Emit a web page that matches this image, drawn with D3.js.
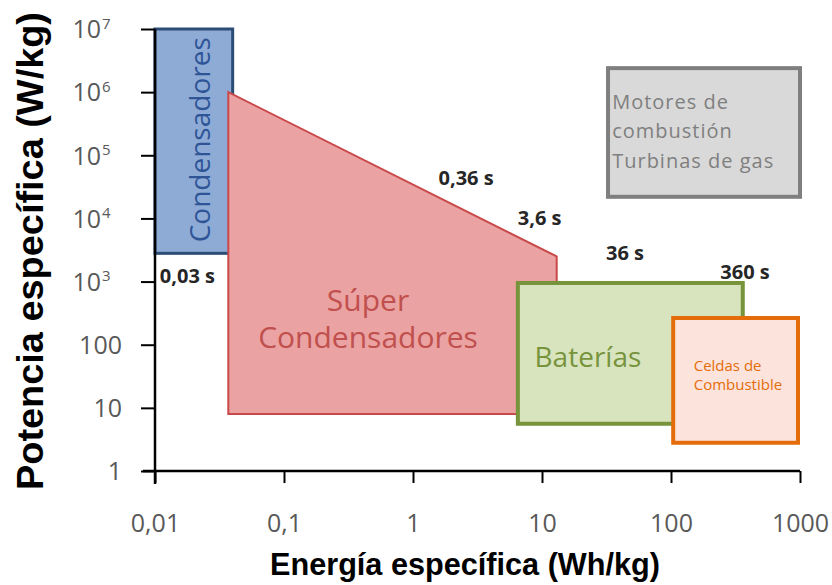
<!DOCTYPE html>
<html>
<head>
<meta charset="utf-8">
<script src="https://cdn.jsdelivr.net/npm/d3@7"></script>
<style>
	body { margin: 0; background: #fff; }
	svg { display: block; }
	.tick-label { font-family: 'Open Sans', sans-serif; fill: #595959; }
	.axis-title { font-family: 'Liberation Sans', Arial, sans-serif; font-weight: bold; fill: #000; }
	.time-label { font-family: 'Open Sans', sans-serif; font-weight: bold; fill: #262626; }
	.region-label { font-family: 'Open Sans', sans-serif; }
</style>
</head>
<body>
<svg id="chart-svg" width="832" height="585"></svg>
<script>
// Ragone chart: energia especifica vs potencia especifica

const X_TICKS = [0.01, 0.1, 1, 10, 100, 1000];
const X_TICK_LABELS = ['0,01', '0,1', '1', '10', '100', '1000'];
const Y_TICKS = [1, 10, 100, 1e3, 1e4, 1e5, 1e6, 1e7];
const Y_TICK_LABELS = ['1', '10', '100', '10|3', '10|4', '10|5', '10|6', '10|7'];

// rectangles: [energia min, energia max], [potencia min, potencia max]
const condensadoresEnergy = [0.01, 0.04];
const condensadoresPower = [2800, 1e7];
const bateriasEnergy = [6.5, 360];
const bateriasPower = [5.6, 950];
const celdasEnergy = [104, 965];
const celdasPower = [2.8, 265];
const motoresEnergy = [32.5, 1000];
const motoresPower = [2.2e4, 2.4e6];

// super condensadores polygon (energia, potencia)
const superPoints = [[0.037, 1e6], [13, 2500], [13, 8], [0.037, 8]];

// tiempos de descarga
const timeLabels = ['0,03 s', '0,36 s', '3,6 s', '36 s', '360 s'];
const timeEnergy = [0.0109, 2.58, 9.6, 44, 375];
const timePower = [1230, 4.4e4, 1.02e4, 2850, 1420];

const svg = d3.select('#chart-svg');

const x = d3.scaleLog().domain([0.01, 1000]).range([155, 800]);
const y = d3.scaleLog().domain([1, 1e7]).range([471, 29]);

// regions
function drawRect(ex, py, fill, stroke, sw) {
	svg.append('rect')
		.attr('x', x(ex[0]))
		.attr('y', y(py[1]))
		.attr('width', x(ex[1]) - x(ex[0]))
		.attr('height', y(py[0]) - y(py[1]))
		.attr('fill', fill)
		.attr('stroke', stroke)
		.attr('stroke-width', sw);
}

drawRect(motoresEnergy, motoresPower, '#d9d9d9', '#7f7f7f', 4);
drawRect(condensadoresEnergy, condensadoresPower, '#8eabd6', '#2c4d75', 3);

svg.append('path')
	.datum(superPoints)
	.attr('d', d3.line().x((d) => x(d[0])).y((d) => y(d[1])).curve(d3.curveLinearClosed))
	.attr('fill', '#eba2a2')
	.attr('stroke', '#c9494a')
	.attr('stroke-width', 2);

drawRect(bateriasEnergy, bateriasPower, '#d7e4bd', '#77933c', 4);
drawRect(celdasEnergy, celdasPower, '#fce4dc', '#e46c0a', 4);

// axes
const xAxis = d3.axisBottom(x).tickValues(X_TICKS).tickFormat((d, i) => X_TICK_LABELS[i]).tickSize(12).tickSizeOuter(0);
const gx = svg.append('g').attr('transform', 'translate(0,471)').call(xAxis);
gx.select('.domain').attr('stroke-width', 2.5).attr('d', 'M143,0H800');
gx.selectAll('.tick line').attr('stroke-width', 2);
gx.selectAll('.tick text').attr('class', 'tick-label').attr('font-size', 25).attr('dy', null).attr('y', 61);

const yAxis = d3.axisLeft(y).tickValues(Y_TICKS).tickFormat('').tickSize(14).tickSizeOuter(0);
const gy = svg.append('g').attr('transform', 'translate(155,0)').call(yAxis);
gy.select('.domain').attr('stroke-width', 2.5).attr('d', 'M0,29V484');
gy.selectAll('.tick line').attr('stroke-width', 2);
gy.selectAll('.tick').each(function (d, i) {
	const parts = Y_TICK_LABELS[i].split('|');
	d3.select(this).append('text')
		.attr('class', 'tick-label')
		.attr('x', parts.length > 1 ? -54 : -33)
		.attr('dy', '0.35em')
		.attr('text-anchor', 'end')
		.attr('font-size', 25)
		.text(parts[0]);
	if (parts.length > 1) {
		d3.select(this).append('text')
			.attr('class', 'tick-label')
			.attr('x', -53)
			.attr('y', -1)
			.attr('text-anchor', 'start')
			.attr('font-size', 15)
			.text(parts[1]);
	}
});

// axis titles
svg.append('text')
	.attr('class', 'axis-title')
	.attr('x', 270)
	.attr('y', 575)
	.attr('font-size', 32)
	.attr('textLength', 390)
	.attr('lengthAdjust', 'spacingAndGlyphs')
	.text('Energía específica (Wh/kg)');

svg.append('text')
	.attr('class', 'axis-title')
	.attr('transform', 'translate(43,490) rotate(-90)')
	.attr('font-size', 36)
	.attr('textLength', 478)
	.attr('lengthAdjust', 'spacingAndGlyphs')
	.text('Potencia específica (W/kg)');

// region labels
svg.append('text')
	.attr('class', 'region-label')
	.attr('transform', `translate(${x(0.0223)},${y(1.76e5)}) rotate(-90)`)
	.attr('text-anchor', 'middle')
	.attr('dy', '0.35em')
	.attr('font-size', 28)
	.attr('fill', '#2f5597')
	.text('Condensadores');

svg.append('text')
	.attr('class', 'region-label')
	.attr('text-anchor', 'middle')
	.attr('font-size', 30)
	.attr('fill', '#c0504d')
	.selectAll('tspan')
	.data([['Súper', 510], ['Condensadores', 128]])
	.join('tspan')
	.attr('x', x(0.448))
	.attr('y', (d) => y(d[1]))
	.attr('dy', '0.35em')
	.text((d) => d[0]);

svg.append('text')
	.attr('class', 'region-label')
	.attr('x', x(22.7))
	.attr('y', y(64))
	.attr('dy', '0.35em')
	.attr('text-anchor', 'middle')
	.attr('font-size', 28)
	.attr('fill', '#77933c')
	.text('Baterías');

svg.append('text')
	.attr('class', 'region-label')
	.attr('font-size', 15)
	.attr('fill', '#e46c0a')
	.selectAll('tspan')
	.data([['Celdas de', 46], ['Combustible', 23]])
	.join('tspan')
	.attr('x', x(150))
	.attr('y', (d) => y(d[1]))
	.attr('dy', '0.35em')
	.text((d) => d[0]);

svg.append('text')
	.attr('class', 'region-label')
	.attr('font-size', 20)
	.attr('letter-spacing', 1)
	.attr('fill', '#7f7f7f')
	.selectAll('tspan')
	.data([['Motores de', 7.0e5], ['combustión', 2.4e5], ['Turbinas de gas', 8.2e4]])
	.join('tspan')
	.attr('x', x(35))
	.attr('y', (d) => y(d[1]))
	.attr('dy', '0.35em')
	.text((d) => d[0]);

// discharge time labels
svg.selectAll('.time-label')
	.data(timeLabels)
	.join('text')
	.attr('class', 'time-label')
	.attr('x', (d, i) => x(timeEnergy[i]))
	.attr('y', (d, i) => y(timePower[i]))
	.attr('dy', '0.35em')
	.attr('font-size', 20)
	.attr('text-anchor', (d, i) => (i === 0 ? 'start' : 'middle'))
	.text((d) => d);
</script>
</body>
</html>
